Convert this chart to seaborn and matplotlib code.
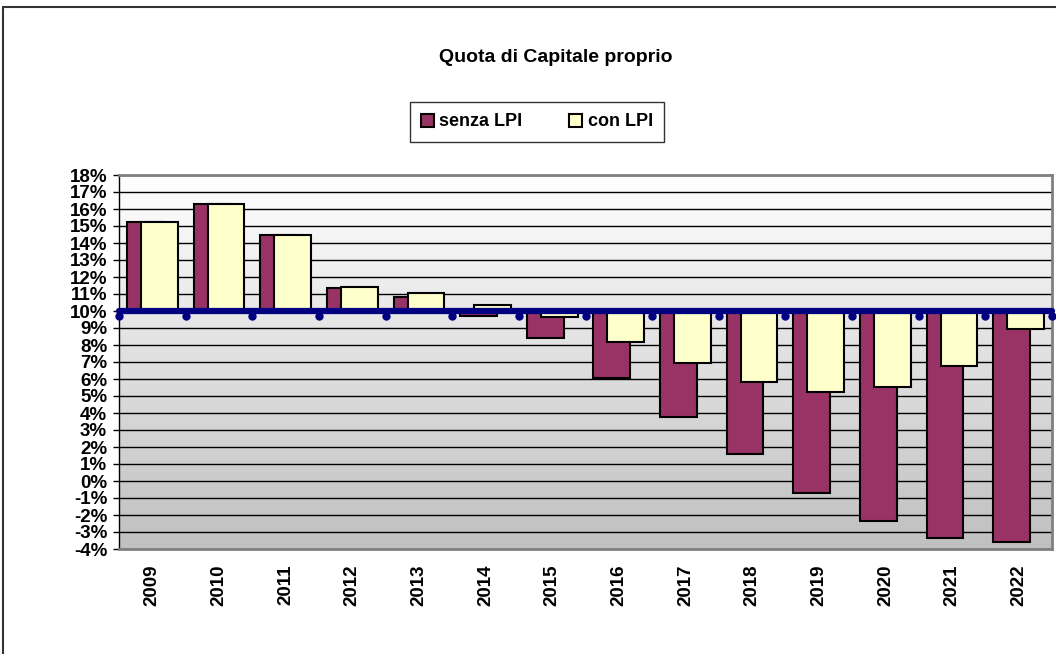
import matplotlib

matplotlib.use("Agg")
import matplotlib.pyplot as plt
import seaborn as sns
import numpy as np
import pandas as pd
from matplotlib.lines import Line2D
from matplotlib.patches import Patch
from matplotlib.colors import LinearSegmentedColormap

# dati (in %)
years = list(range(2009, 2023))
senza_lpi = [15.25, 16.3, 14.45, 11.37, 10.81, 9.71, 8.39, 6.04, 3.78, 1.57, -0.69, -2.35, -3.35, -3.57]
con_lpi = [15.25, 16.3, 14.45, 11.39, 11.04, 10.35, 9.66, 8.16, 6.92, 5.81, 5.22, 5.51, 6.76, 8.94]
y_ticks = list(range(-4, 19))
series_names = ["senza LPI", "con LPI"]
base = 10  # le barre partono dal 10%

COLORS = {"senza": "#993366", "con": "#FFFFCC", "axis": "#000080"}

sns.set_style("white")
plt.rcParams["font.family"] = ["Liberation Sans", "DejaVu Sans"]
plt.rcParams["font.weight"] = "bold"
plt.rcParams["text.color"] = "black"
plt.rcParams["xtick.color"] = "black"
plt.rcParams["ytick.color"] = "black"

W, H = 1056, 654
fig = plt.figure(figsize=(W / 100, H / 100), dpi=100)
ax = fig.add_axes([119 / W, 1 - 549 / H, (1052 - 119) / W, (549 - 175) / H])

df = pd.DataFrame(
    {
        "year": years,
        "senza": np.array(senza_lpi) - base,
        "con": np.array(con_lpi) - base,
    }
)

xmin, xmax = years[0] - 0.5, years[-1] + 0.5
ymin, ymax = y_ticks[0] - base, y_ticks[-1] - base

# sfondo sfumato
bg = LinearSegmentedColormap.from_list("bg", ["#c0c0c0", "#ffffff"])
ax.imshow(
    np.linspace(1, 0, 256).reshape(-1, 1),
    cmap=bg,
    extent=(xmin, xmax, ymin, ymax),
    aspect="auto",
    zorder=0,
)

# barre sovrapposte
sns.barplot(
    x=df["year"] - 0.105, y=df["senza"], native_scale=True, width=0.55,
    color=COLORS["senza"], saturation=1, edgecolor="black", linewidth=1.5,
    errorbar=None, ax=ax, zorder=2,
)
sns.barplot(
    x=df["year"] + 0.105, y=df["con"], native_scale=True, width=0.55,
    color=COLORS["con"], saturation=1, edgecolor="black", linewidth=1.5,
    errorbar=None, ax=ax, zorder=3,
)

# asse orizzontale al 10%
ax.axhline(0, color=COLORS["axis"], lw=4.5, zorder=5, solid_capstyle="round", clip_on=False)
ax.plot(
    np.arange(xmin, xmax + 0.01, 1.0), [-0.3] * (len(years) + 1), "o",
    color=COLORS["axis"], ms=5, zorder=5, clip_on=False,
)

ax.set_xlim(xmin, xmax)
ax.set_ylim(ymin, ymax)
ax.set_yticks([t - base for t in y_ticks])
ax.set_yticklabels([f"{t}%" for t in y_ticks], fontsize=13.5, fontweight="bold", color="black")
ax.set_xticks(years)
ax.set_xticklabels([str(y) for y in years], rotation=90, fontsize=13.5, fontweight="bold", color="black")
ax.tick_params(axis="x", length=0, pad=11)
ax.tick_params(axis="y", length=4.5, width=1, color="black", pad=4, left=True)
ax.set_xlabel("")
ax.set_ylabel("")

ax.set_axisbelow(True)
ax.yaxis.grid(True, color="black", lw=1)
ax.xaxis.grid(False)

for side in ["top", "right", "bottom"]:
    ax.spines[side].set_color("#808080")
    ax.spines[side].set_linewidth(2)
ax.spines["left"].set_color("black")
ax.spines["left"].set_linewidth(1)

# titolo e legenda
fig.text(556 / W, 1 - 57 / H, "Quota di Capitale proprio", ha="center", va="center",
         fontsize=14, fontweight="bold", color="black")

handles = [
    Patch(facecolor=COLORS["senza"], edgecolor="black", linewidth=1.5),
    Patch(facecolor=COLORS["con"], edgecolor="black", linewidth=1.5),
]
leg = fig.legend(
    handles, series_names, loc="center", bbox_to_anchor=(537 / W, 1 - 122 / H),
    ncol=2, frameon=True, fancybox=False, edgecolor="black",
    prop={"weight": "bold", "size": 13}, handlelength=0.7, handleheight=0.7,
    handletextpad=0.3, columnspacing=2.6, borderpad=0.65,
)
leg.get_frame().set_linewidth(1)
for t in leg.get_texts():
    t.set_color("black")

# cornice esterna
fig.add_artist(Line2D([3 / W, 1], [1 - 7 / H, 1 - 7 / H], color="#333333", lw=1.5, transform=fig.transFigure))
fig.add_artist(Line2D([3 / W, 3 / W], [0, 1 - 7 / H], color="#333333", lw=1.5, transform=fig.transFigure))

fig.savefig("out.png", dpi=100)
